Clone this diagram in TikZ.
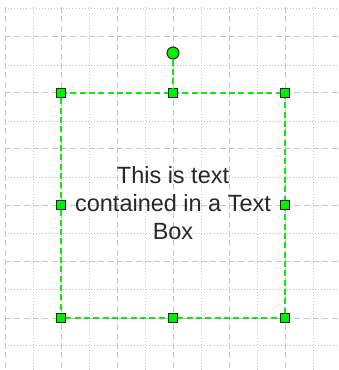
\documentclass[tikz,border=0pt]{standalone}
\usepackage{fontspec}
\setmainfont{Liberation Sans}
\definecolor{gridgray}{RGB}{200,200,200}
\definecolor{selgreen}{RGB}{20,230,20}
\definecolor{handlegreen}{RGB}{0,240,0}
\definecolor{txtgray}{RGB}{40,40,40}
\tikzset{
  majorline/.style={draw=gridgray, line width=0.75pt, dash pattern=on 4.5pt off 2.5pt},
  minorline/.style={draw=gridgray, line width=0.7pt, dash pattern=on 0.7pt off 1.6pt},
  selline/.style={draw=selgreen, line width=0.8pt, dash pattern=on 4.5pt off 2.5pt},
  handle/.style={rectangle, draw=black!85, fill=handlegreen, line width=0.8pt, minimum size=7pt, inner sep=0pt},
  rothandle/.style={circle, draw=black!85, fill=handlegreen, line width=0.8pt, minimum size=9pt, inner sep=0pt},
  boxtext/.style={align=center, text=txtgray, font=\fontsize{17.6}{21}\selectfont, inner sep=0pt}
}
\begin{document}
\begin{tikzpicture}[x=0.75pt, y=-0.75pt]
\useasboundingbox (0,0) rectangle (338,370);
\fill[white] (0,0) rectangle (338,370);
% grid
\foreach \x in {33,89,145,201,257,313} \draw[minorline] (\x,7) -- (\x,370);
\foreach \y in {8,65,121,177,233,289,345} \draw[minorline] (5,\y) -- (338,\y);
\foreach \x in {5,61,117,173,229,285} \draw[majorline] (\x,7) -- (\x,370);
\foreach \y in {36.5,93,149,205,261,318} \draw[majorline] (5,\y) -- (338,\y);
% text
\node[boxtext] (txt) at (173,203) {This is text\\contained in a Text\\Box};
% handles
\coordinate (tl) at (61,93);
\coordinate (tr) at (285,93);
\coordinate (bl) at (61,318);
\coordinate (br) at (285,318);
\draw[selline] (tl) -- (tr) -- (br) -- (bl) -- cycle;
\node[rothandle] (rot) at (173,53) {};
\node[handle] (htl) at (tl) {};
\node[handle] (htm) at (173,93) {};
\node[handle] (htr) at (tr) {};
\node[handle] (hml) at (61,205) {};
\node[handle] (hmr) at (285,205) {};
\node[handle] (hbl) at (bl) {};
\node[handle] (hbm) at (173,318) {};
\node[handle] (hbr) at (br) {};
\draw[selline] (rot) -- (htm);
\end{tikzpicture}
\end{document}
